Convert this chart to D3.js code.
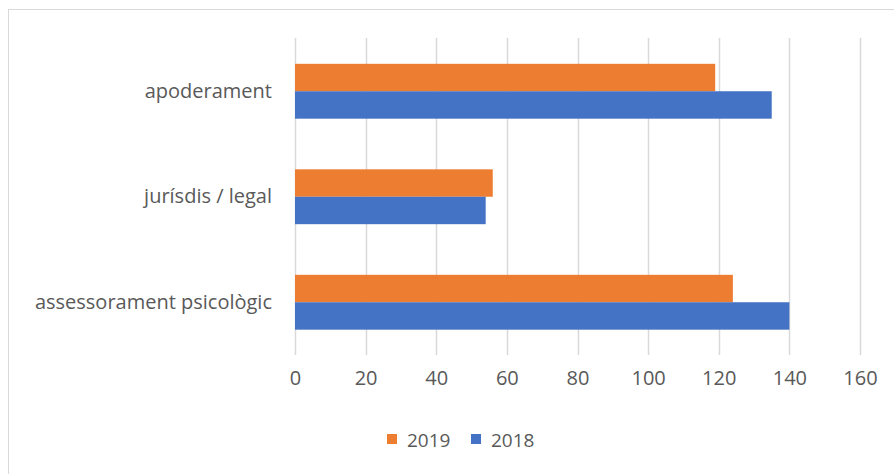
<!DOCTYPE html>
<html><head><meta charset="utf-8">
<script src="https://cdn.jsdelivr.net/npm/d3@7"></script>
<style>body{margin:0;background:#fff}svg{display:block}text{font-family:"Open Sans",sans-serif;fill:#595959}</style>
</head><body><svg id="c" width="894" height="474"></svg>
<script>
const categories = ["apoderament", "jurísdis / legal", "assessorament psicològic"];
const seriesNames = ["2019", "2018"];
const values2019 = [119, 56, 124];
const values2018 = [135, 54, 140];
const xTicks = [0, 20, 40, 60, 80, 100, 120, 140, 160];
const colors = ["#ED7D31", "#4472C4"];

const svg = d3.select("#c");
svg.append("rect").attr("x",8.5).attr("y",9.5).attr("width",900).attr("height",500)
  .attr("fill","#fff").attr("stroke","#d9d9d9").attr("stroke-width",1);

const x = d3.scaleLinear().domain([0,160]).range([295,860]);
const y = d3.scaleBand().domain(categories).range([38.5,355]).paddingInner(0.48).paddingOuter(0.24);
const ySub = d3.scaleBand().domain(seriesNames).range([0,y.bandwidth()]);

// gridlines
svg.append("g").selectAll("line").data(xTicks).join("line")
  .attr("x1",d=>Math.round(x(d))+0.5).attr("x2",d=>Math.round(x(d))+0.5)
  .attr("y1",38).attr("y2",355).attr("stroke","#d9d9d9").attr("stroke-width",1.5);

const data = categories.map((c,i)=>({cat:c, vals:[{s:"2019",v:values2019[i]},{s:"2018",v:values2018[i]}]}));
const g = svg.append("g");
data.forEach(d=>{
  g.selectAll(null).data(d.vals).join("rect")
    .attr("x",x(0)).attr("y",v=>y(d.cat)+ySub(v.s))
    .attr("width",v=>x(v.v)-x(0)).attr("height",ySub.bandwidth())
    .attr("fill",(v,i)=>colors[i]);
});

const fs = 20;
// x axis labels
const xAxis = d3.axisBottom(x).tickValues(xTicks).tickSize(0).tickPadding(0);
const xa = svg.append("g").attr("transform","translate(0,371)").call(xAxis);
xa.select(".domain").remove();
xa.selectAll("text").attr("font-size",fs).attr("dy","0.71em").style("font-family","'Open Sans',sans-serif").attr("fill","#595959");

// y axis labels
const yAxis = d3.axisLeft(y).tickSize(0).tickPadding(0);
const ya = svg.append("g").attr("transform","translate(272,0)").call(yAxis);
ya.select(".domain").remove();
ya.selectAll("text").attr("font-size",fs).style("font-family","'Open Sans',sans-serif").attr("fill","#595959");

// legend
const legend = svg.append("g");
const lx = [387, 471];
seriesNames.forEach((s,i)=>{
  legend.append("rect").attr("x",lx[i]).attr("y",434).attr("width",10).attr("height",10).attr("fill",colors[i]);
  legend.append("text").attr("x",lx[i]+20).attr("y",447).attr("font-size",19).text(s);
});
</script></body></html>
